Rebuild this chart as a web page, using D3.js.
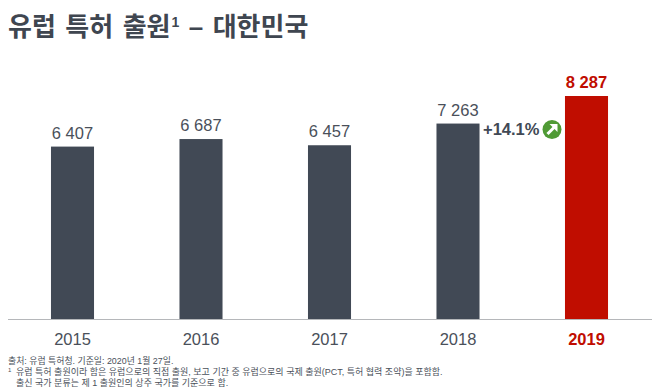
<!DOCTYPE html>
<html><head><meta charset="utf-8">
<script src="https://cdn.jsdelivr.net/npm/d3@7"></script>
<style>html,body{margin:0;padding:0;background:#fff}svg{display:block}
text{font-family:"Liberation Sans","Noto Sans CJK KR",sans-serif}</style></head>
<body><svg id="c" width="660" height="389"></svg>
<script>
const years = ["2015","2016","2017","2018","2019"];
const values = [6407,6687,6457,7263,8287];
const valueLabels = ["6 407","6 687","6 457","7 263","8 287"];
const growthLabel = "+14.1%";
const footnotes = ["출처: 유럽 특허청. 기준일: 2020년 1월 27일.",
 "유럽 특허 출원이라 함은 유럽으로의 직접 출원, 보고 기간 중 유럽으로의 국제 출원(PCT, 특허 협력 조약)을 포함함.",
 "출신 국가 분류는 제 1 출원인의 상주 국가를 기준으로 함."];
const dark="#414955", red="#c00d00", text="#4a505a";
const svg=d3.select("#c");
const x=d3.scaleBand().domain(years).range([8.25,650.75]).paddingInner(0.665).paddingOuter(0.3325);
const y=d3.scaleLinear().domain([0,8287]).range([319,96]);

const title=svg.append("text").attr("x",8).attr("y",36).attr("font-size",26).attr("font-weight",700).attr("fill","#3f4650").attr("word-spacing",2.25);
title.append("tspan").text("유럽 특허 출원");
title.append("tspan").attr("font-size",14).attr("dy",-9).attr("dx",1).text("1");
title.append("tspan").attr("dy",9).text(" – 대한민국");

svg.selectAll("rect.bar").data(years).join("rect").attr("class","bar")
 .attr("x",d=>x(d)).attr("width",x.bandwidth())
 .attr("y",(d,i)=>y(values[i])).attr("height",(d,i)=>y(0)-y(values[i]))
 .attr("fill",(d,i)=>i===4?red:dark);

svg.selectAll("text.val").data(years).join("text").attr("class","val")
 .attr("x",d=>x(d)+x.bandwidth()/2).attr("y",(d,i)=>y(values[i])-8)
 .attr("text-anchor","middle").attr("font-size",16.5)
 .attr("font-weight",(d,i)=>i===4?700:400)
 .attr("fill",(d,i)=>i===4?red:text)
 .text((d,i)=>valueLabels[i]);

const axis=d3.axisBottom(x).tickSize(0).tickPadding(14);
const ax=svg.append("g").attr("transform","translate(0,319)").call(axis);
ax.select(".domain").remove();
svg.append("line").attr("x1",8).attr("x2",652).attr("y1",319.5).attr("y2",319.5).attr("stroke","#b5b7ba").attr("stroke-width",1.2);
ax.selectAll("text").attr("font-size",16.5).attr("font-family",null)
 .attr("font-weight",d=>d==="2019"?700:400).attr("fill",d=>d==="2019"?red:text);

svg.append("text").attr("x",483).attr("y",135).attr("font-size",16.5).attr("font-weight",700).attr("fill",dark).text(growthLabel);
const b=svg.append("g").attr("transform","translate(552,129.5)");
b.append("circle").attr("r",9.5).attr("fill","#4f9a34");
b.append("path").attr("d","M-4.5,4.5L2.5,-2.5").attr("stroke","#fff").attr("stroke-width",3);
b.append("path").attr("d","M-2.5,-5.5H5.5V2.5Z").attr("fill","#fff");

svg.append("text").attr("x",8).attr("y",364).attr("font-size",8.9).attr("fill",text).text(footnotes[0]);
svg.append("text").attr("x",8).attr("y",372).attr("font-size",6).attr("fill",text).text("1");
svg.append("text").attr("x",16).attr("y",375).attr("font-size",9).attr("fill",text).text(footnotes[1]);
svg.append("text").attr("x",16).attr("y",385.5).attr("font-size",9).attr("fill",text).text(footnotes[2]);
</script></body></html>
